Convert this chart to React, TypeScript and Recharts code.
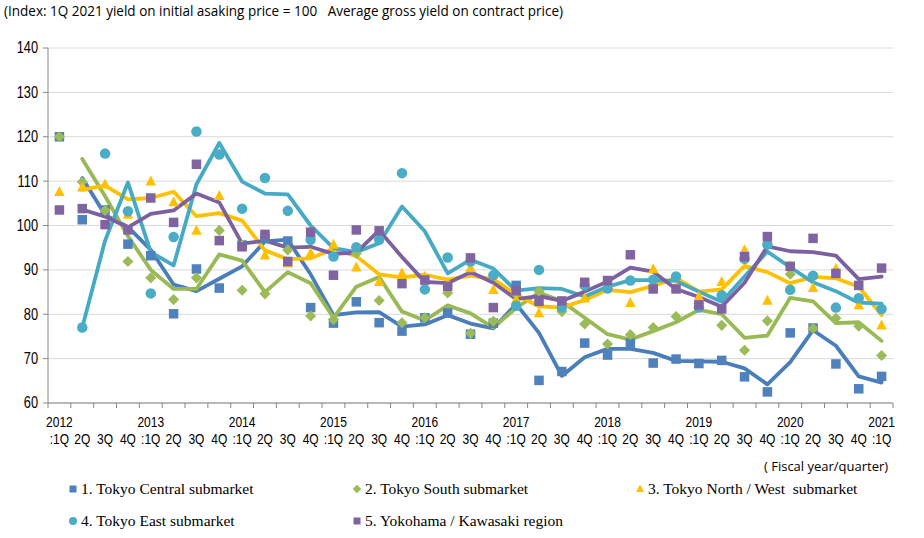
import React from "react";
import { ComposedChart, Line, XAxis, YAxis, CartesianGrid, Legend } from "recharts";

const W = 924;
const H = 538;
const PLOT_LEFT = 48;
const PLOT_RIGHT = 893;
const PLOT_TOP = 48;
const PLOT_BOTTOM = 403;

const yearLabels = ["2012", "2013", "2014", "2015", "2016", "2017", "2018", "2019", "2020", "2021"];
const quarterLabels = [":1Q", "2Q", "3Q", "4Q"];
const yTicks = [60, 70, 80, 90, 100, 110, 120, 130, 140];

// Markers: yield on initial asking price (index); Lines: average gross yield on contract price
const centralAsking = [120, 101.3, 103.5, 95.8, 93.2, 80.1, 90.2, 85.9, 95.6, 97.1, 96.5, 81.5, 78.0, 82.8, 78.1, 76.2, 79.2, 80.3, 75.5, 78.0, 86.5, 65.1, 67.1, 73.5, 70.8, 73.5, 69.0, 69.9, 68.9, 69.6, 65.9, 62.5, 75.8, 76.9, 68.8, 63.2, 66.0];
const centralContract = [null, 110.7, 102.4, 99.7, 94.5, 86.7, 85.2, 88.0, 90.8, 96.4, 96.8, 89.0, 79.8, 80.4, 80.5, 77.2, 77.7, 79.8, 77.9, 76.8, 82.3, 75.8, 66.1, 70.3, 72.2, 72.2, 71.3, 69.5, 69.4, 69.3, 67.8, 64.2, 69.2, 76.4, 72.9, 66.0, 64.6];

const southAsking = [120, 109.8, 103.4, 91.9, 88.2, 83.3, 88.2, 98.9, 85.4, 84.6, 94.5, 79.6, 78.8, 93.7, 83.1, 78.1, 79.2, 84.8, 75.7, 78.4, 84.5, 85.2, 80.6, 77.8, 73.3, 75.4, 77.0, 79.5, 82.5, 77.5, 71.9, 78.5, 89.0, 76.8, 79.1, 77.3, 70.7];
const southContract = [null, 115.0, 106.6, 97.6, 90.0, 85.7, 85.7, 93.5, 92.1, 85.0, 89.5, 87.0, 79.2, 86.2, 88.4, 80.6, 78.6, 82.0, 80.2, 77.0, 81.4, 84.9, 82.9, 79.2, 75.5, 74.3, 76.2, 78.2, 81.0, 80.0, 74.7, 75.2, 83.7, 82.9, 78.0, 78.2, 74.0];

const northAsking = [107.6, 108.6, 109.3, 102.5, 110.0, 105.3, 98.9, 106.7, 95.5, 93.3, 91.5, 93.8, 95.7, 90.6, 87.3, 89.3, 88.5, 87.1, 90.4, 85.5, 83.3, 80.3, 82.8, 83.6, 87.4, 82.6, 90.2, 86.2, 84.0, 87.3, 94.5, 83.1, 90.9, 86.0, 90.3, 82.1, 77.5];
const northContract = [null, 108.1, 109.0, 105.9, 106.2, 107.6, 102.1, 102.8, 101.1, 94.4, 92.4, 92.6, 94.7, 93.1, 89.0, 88.3, 88.9, 87.8, 88.7, 87.9, 84.4, 81.8, 81.5, 83.2, 85.5, 85.0, 86.4, 88.2, 85.1, 85.6, 90.9, 89.5, 87.0, 88.4, 88.1, 86.2, 79.8];

const eastAsking = [null, 77.0, 116.2, 103.2, 84.7, 97.4, 121.2, 116.0, 103.8, 110.7, 103.3, 96.8, 93.0, 95.1, 96.8, 111.8, 85.6, 92.8, 91.9, 88.8, 81.9, 90.0, 81.5, 86.5, 85.8, 87.6, 87.8, 88.5, 81.5, 84.3, 92.5, 95.7, 85.5, 88.7, 81.5, 83.6, 81.2];
const eastContract = [null, 77.0, 96.6, 109.7, 94.0, 91.0, 109.3, 118.6, 109.9, 107.2, 107.0, 100.0, 94.9, 94.0, 96.0, 104.3, 98.7, 89.2, 92.3, 90.3, 85.3, 85.9, 85.7, 84.0, 86.2, 87.7, 87.7, 87.5, 85.1, 82.8, 88.5, 94.1, 90.6, 87.2, 85.2, 82.6, 82.4];

const yokohamaAsking = [103.5, 103.8, 100.2, 99.0, 106.2, 100.7, 113.8, 96.6, 95.2, 98.0, 91.9, 98.5, 88.8, 99.0, 98.8, 86.9, 87.7, 86.3, 92.7, 81.5, 85.3, 82.9, 83.0, 87.2, 87.6, 93.4, 85.7, 85.7, 82.1, 81.2, 93.0, 97.5, 90.8, 97.1, 89.2, 86.5, 90.4];
const yokohamaContract = [null, 103.6, 102.0, 99.6, 102.6, 103.4, 107.2, 105.2, 95.9, 96.6, 95.0, 95.2, 93.6, 93.9, 98.9, 92.9, 87.3, 87.0, 89.5, 87.1, 83.4, 84.1, 83.0, 85.1, 87.4, 90.5, 89.6, 85.7, 83.9, 81.7, 87.1, 95.3, 94.2, 94.0, 93.2, 87.9, 88.5];

type Shape = "square" | "diamond" | "triangle" | "circle";

const series: { key: string; name: string; color: string; lineColor: string; shape: Shape; asking: (number | null)[]; contract: (number | null)[] }[] = [
  { key: "central", name: "1. Tokyo Central submarket", color: "#4F81BD", lineColor: "#4A7EBB", shape: "square", asking: centralAsking, contract: centralContract },
  { key: "south", name: "2. Tokyo South submarket", color: "#9BBB59", lineColor: "#98B954", shape: "diamond", asking: southAsking, contract: southContract },
  { key: "north", name: "3. Tokyo North / West  submarket", color: "#FFC000", lineColor: "#FFC000", shape: "triangle", asking: northAsking, contract: northContract },
  { key: "east", name: "4. Tokyo East submarket", color: "#4BACC6", lineColor: "#46AAC5", shape: "circle", asking: eastAsking, contract: eastContract },
  { key: "yokohama", name: "5. Yokohama / Kawasaki region", color: "#8064A2", lineColor: "#7D60A0", shape: "square", asking: yokohamaAsking, contract: yokohamaContract },
];

const categories: { year: string; q: string }[] = [];
yearLabels.forEach((y, yi) => {
  quarterLabels.forEach((q, qi) => {
    if (yi === yearLabels.length - 1 && qi > 0) return;
    categories.push({ year: qi === 0 ? y : "", q });
  });
});

const data = categories.map((c, i) => {
  const row: any = { cat: `${i}`, year: c.year, q: c.q };
  series.forEach((s) => {
    row[s.key + "A"] = s.asking[i];
    row[s.key + "C"] = s.contract[i];
  });
  return row;
});

const N = categories.length;
const BAND = (PLOT_RIGHT - PLOT_LEFT) / N;
const AXIS_FONT = "'Liberation Sans', Arial, sans-serif";

function marker(shape: Shape, color: string, cx: number, cy: number, size: number, key?: any) {
  const h = size / 2;
  if (shape === "square") return <rect key={key} x={cx - h} y={cy - h} width={size} height={size} fill={color} />;
  if (shape === "diamond")
    return <polygon key={key} points={`${cx},${cy - h - 0.8} ${cx + h + 0.8},${cy} ${cx},${cy + h + 0.8} ${cx - h - 0.8},${cy}`} fill={color} />;
  if (shape === "triangle")
    return <polygon key={key} points={`${cx},${cy - h - 1} ${cx + h + 0.5},${cy + h - 0.5} ${cx - h - 0.5},${cy + h - 0.5}`} fill={color} />;
  return <circle key={key} cx={cx} cy={cy} r={h + 0.5} fill={color} />;
}

const makeDot = (shape: Shape, color: string) => (props: any) => {
  const { cx, cy, value, key, index } = props;
  if (cy == null || cx == null || value == null || Number.isNaN(cy)) return <g key={key ?? index} />;
  return marker(shape, color, cx, cy, 9.5, key ?? index);
};

const XTick = (props: any) => {
  const { x, index } = props;
  const d = data[index];
  if (!d) return null;
  return (
    <g>
      <line x1={x - BAND / 2} x2={x - BAND / 2} y1={PLOT_BOTTOM} y2={PLOT_BOTTOM + 5} stroke="#868686" />
      {index === N - 1 && <line x1={x + BAND / 2} x2={x + BAND / 2} y1={PLOT_BOTTOM} y2={PLOT_BOTTOM + 5} stroke="#868686" />}
      <g transform={`translate(${x},0) scale(0.8,1)`}>
        {d.year && (
          <text x={0} y={PLOT_BOTTOM + 24} textAnchor="middle" fontSize={15} fontFamily={AXIS_FONT} fill="#000">
            {d.year}
          </text>
        )}
        <text x={0} y={PLOT_BOTTOM + 41} textAnchor="middle" fontSize={15} fontFamily={AXIS_FONT} fill="#000">
          {d.q}
        </text>
      </g>
    </g>
  );
};

const YTick = (props: any) => {
  const { y, payload } = props;
  return (
    <g>
      <line x1={PLOT_LEFT - 5} x2={PLOT_LEFT} y1={y} y2={y} stroke="#868686" />
      <g transform={`translate(38,0) scale(0.8,1)`}>
        <text x={0} y={y + 5.5} textAnchor="end" fontSize={16} fontFamily={AXIS_FONT} fill="#000">
          {payload.value}
        </text>
      </g>
    </g>
  );
};

const LegendContent = () => {
  const pos = [
    { x: 73, y: 19 },
    { x: 357, y: 19 },
    { x: 640, y: 19 },
    { x: 73, y: 51 },
    { x: 357, y: 51 },
  ];
  return (
    <div style={{ position: "relative", width: W, height: 68 }}>
      {series.map((s, i) => (
        <div key={s.key} style={{ position: "absolute", left: pos[i].x - 6, top: pos[i].y - 10, height: 20, display: "flex", alignItems: "center", whiteSpace: "pre" }}>
          <svg width={12} height={12} style={{ display: "block" }}>
            {marker(s.shape, s.color, 6, 6, 7)}
          </svg>
          <span style={{ fontFamily: "'Liberation Serif', 'Times New Roman', serif", fontSize: 15.5, color: "#000", marginLeft: 2 }}>{s.name}</span>
        </div>
      ))}
    </div>
  );
};

export default function App() {
  return (
    <div style={{ position: "absolute", left: 0, top: 0, width: W, height: H, background: "#fff" }}>
      <svg width={W} height={30} style={{ position: "absolute", left: 0, top: 0 }}>
        <text x={4} y={16} fontSize={14} fontFamily="'Open Sans', 'Noto Sans', sans-serif" fill="#000" textLength={559} lengthAdjust="spacingAndGlyphs" style={{ whiteSpace: "pre" }}>
          {"(Index: 1Q 2021 yield on initial asaking price = 100   Average gross yield on contract price)"}
        </text>
      </svg>
      <ComposedChart width={W} height={H} data={data} margin={{ top: PLOT_TOP, right: W - PLOT_RIGHT, bottom: H - PLOT_BOTTOM - 50, left: 0 }}>
        <CartesianGrid horizontal vertical={false} stroke="#D9D9D9" strokeWidth={1} />
        <XAxis dataKey="cat" interval={0} height={50} padding={{ left: BAND / 2, right: BAND / 2 }} tick={<XTick />} tickLine={false} axisLine={{ stroke: "#868686" }} />
        <YAxis domain={[60, 140]} ticks={yTicks} width={PLOT_LEFT} tick={<YTick />} tickLine={false} axisLine={{ stroke: "#868686" }} interval={0} />
        {series.map((s) => (
          <Line key={s.key + "C"} dataKey={s.key + "C"} stroke={s.lineColor} strokeWidth={3.8} strokeLinejoin="round" strokeLinecap="round" dot={false} activeDot={false} isAnimationActive={false} connectNulls={false} />
        ))}
        {series.map((s) => (
          <Line key={s.key + "A"} dataKey={s.key + "A"} stroke="none" dot={makeDot(s.shape, s.color)} activeDot={false} isAnimationActive={false} legendType="none" />
        ))}
        <Legend layout="vertical" align="center" verticalAlign="middle" wrapperStyle={{ left: 0, top: 470, width: W, height: 68 }} content={() => <LegendContent />} />
      </ComposedChart>
      <div style={{ position: "absolute", left: 764, top: 457, fontFamily: "'Open Sans', 'Noto Sans', sans-serif", fontSize: 13, color: "#000", whiteSpace: "pre" }}>
        {"( Fiscal year/quarter)"}
      </div>
    </div>
  );
}
